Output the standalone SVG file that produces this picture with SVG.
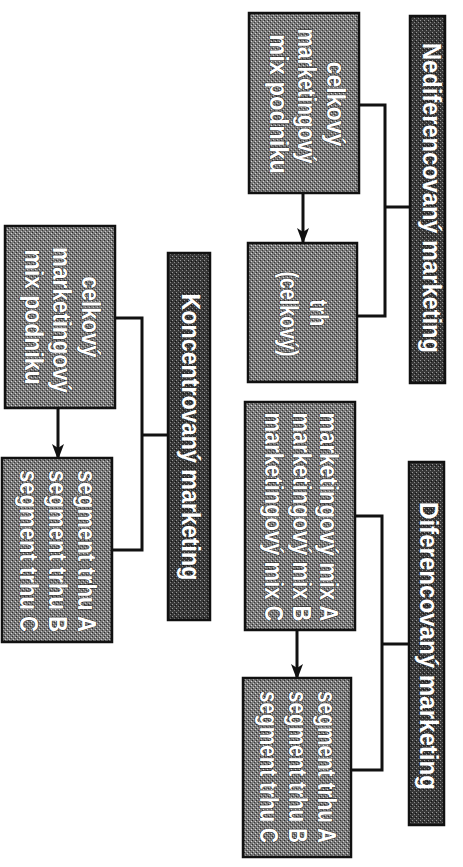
<svg xmlns="http://www.w3.org/2000/svg" width="463" height="867" viewBox="0 0 463 867">
<defs>
<pattern id="ht" width="4" height="4" patternUnits="userSpaceOnUse">
<rect width="4" height="4" fill="#7a7a7a"/>
<rect x="0" y="0" width="1" height="1" fill="#2a2a2a"/>
<rect x="2" y="2" width="1" height="1" fill="#3a3a3a"/>
<rect x="3" y="1" width="1" height="1" fill="#d8d8d8"/>
<rect x="1" y="3" width="1" height="1" fill="#c8c8c8"/>
</pattern>
<pattern id="htd" width="4" height="4" patternUnits="userSpaceOnUse">
<rect width="4" height="4" fill="#383838"/>
<rect x="0" y="0" width="1" height="1" fill="#999"/>
<rect x="2" y="2" width="1" height="1" fill="#888"/>
<rect x="3" y="1" width="1" height="1" fill="#111"/>
</pattern>
<marker id="arr" markerWidth="16" markerHeight="12" refX="14" refY="6" orient="auto" markerUnits="userSpaceOnUse" viewBox="0 0 16 12">
<path d="M0,0 L16,6 L0,12 L4,6 Z" fill="#111"/>
</marker>
<style>
.box{fill:url(#ht);stroke:#111;stroke-width:2.5}
.hdr{fill:url(#htd);stroke:#111;stroke-width:2.5}
.t{font-family:"Liberation Sans","DejaVu Sans",sans-serif;font-weight:bold;font-size:26px;fill:#fff;stroke:#222;stroke-width:1;paint-order:stroke;text-anchor:middle}
.h{font-family:"Liberation Sans","DejaVu Sans",sans-serif;font-weight:bold;font-size:26px;fill:#fff;text-anchor:middle}
.c{fill:none;stroke:#111;stroke-width:3}
</style>
</defs>
<rect width="463" height="867" fill="#fff"/>

<g id="connectors">
<polyline class="c" points="359,105 385,105 385,316 357,316"/>
<line class="c" x1="385" y1="207" x2="411" y2="207"/>
<line class="c" x1="303" y1="193" x2="303" y2="242" marker-end="url(#arr)"/>
<polyline class="c" points="355,516 382,516 382,770 351,770"/>
<line class="c" x1="382" y1="644" x2="410" y2="644"/>
<line class="c" x1="297" y1="630" x2="297" y2="678" marker-end="url(#arr)"/>
<polyline class="c" points="115,318 142,318 142,550 112,550"/>
<line class="c" x1="142" y1="435" x2="168" y2="435"/>
<line class="c" x1="58" y1="408" x2="58" y2="458" marker-end="url(#arr)"/>
</g>

<g id="hdr-nediferencovany">
<rect class="hdr" x="410" y="16" width="35" height="367"/>
<text class="h" transform="translate(423,198) rotate(90)" textLength="310" lengthAdjust="spacingAndGlyphs">Nediferencovaný marketing</text>
</g>
<g id="box-celkovy-mix-1">
<rect class="box" x="249" y="13" width="110" height="180"/>
<text class="t" transform="translate(327,104) rotate(90)" textLength="85" lengthAdjust="spacingAndGlyphs">celkový</text>
<text class="t" transform="translate(298,96) rotate(90)" textLength="135" lengthAdjust="spacingAndGlyphs">marketingový</text>
<text class="t" transform="translate(270,104) rotate(90)" textLength="140" lengthAdjust="spacingAndGlyphs">mix podniku</text>
</g>
<g id="box-trh">
<rect class="box" x="248" y="243" width="109" height="139"/>
<text class="t" transform="translate(310,313) rotate(90)" textLength="27" lengthAdjust="spacingAndGlyphs">trh</text>
<text class="t" transform="translate(280,314) rotate(90)" textLength="85" lengthAdjust="spacingAndGlyphs">(celkový)</text>
</g>

<g id="hdr-diferencovany">
<rect class="hdr" x="409" y="462" width="35" height="363"/>
<text class="h" transform="translate(420,646) rotate(90)" textLength="288" lengthAdjust="spacingAndGlyphs">Diferencovaný marketing</text>
</g>
<g id="box-mix-abc">
<rect class="box" x="245" y="402" width="110" height="228"/>
<text class="t" transform="translate(320,517) rotate(90)" textLength="209" lengthAdjust="spacingAndGlyphs">marketingový mix A</text>
<text class="t" transform="translate(293,517) rotate(90)" textLength="209" lengthAdjust="spacingAndGlyphs">marketingový mix B</text>
<text class="t" transform="translate(265,517) rotate(90)" textLength="209" lengthAdjust="spacingAndGlyphs">marketingový mix C</text>
</g>
<g id="box-segment-1">
<rect class="box" x="243" y="678" width="108" height="179"/>
<text class="t" transform="translate(318,767) rotate(90)" textLength="152" lengthAdjust="spacingAndGlyphs">segment trhu A</text>
<text class="t" transform="translate(289,767) rotate(90)" textLength="152" lengthAdjust="spacingAndGlyphs">segment trhu B</text>
<text class="t" transform="translate(260,767) rotate(90)" textLength="152" lengthAdjust="spacingAndGlyphs">segment trhu C</text>
</g>

<g id="hdr-koncentrovany">
<rect class="hdr" x="168" y="253" width="42" height="367"/>
<text class="h" transform="translate(182,437) rotate(90)" textLength="287" lengthAdjust="spacingAndGlyphs">Koncentrovaný marketing</text>
</g>
<g id="box-celkovy-mix-2">
<rect class="box" x="5" y="226" width="110" height="182"/>
<text class="t" transform="translate(82,317) rotate(90)" textLength="81" lengthAdjust="spacingAndGlyphs">celkový</text>
<text class="t" transform="translate(53,320) rotate(90)" textLength="146" lengthAdjust="spacingAndGlyphs">marketingový</text>
<text class="t" transform="translate(25,317) rotate(90)" textLength="135" lengthAdjust="spacingAndGlyphs">mix podniku</text>
</g>
<g id="box-segment-2">
<rect class="box" x="2" y="458" width="110" height="184"/>
<text class="t" transform="translate(78,551) rotate(90)" textLength="162" lengthAdjust="spacingAndGlyphs">segment trhu A</text>
<text class="t" transform="translate(49,551) rotate(90)" textLength="162" lengthAdjust="spacingAndGlyphs">segment trhu B</text>
<text class="t" transform="translate(20,551) rotate(90)" textLength="162" lengthAdjust="spacingAndGlyphs">segment trhu C</text>
</g>
</svg>
